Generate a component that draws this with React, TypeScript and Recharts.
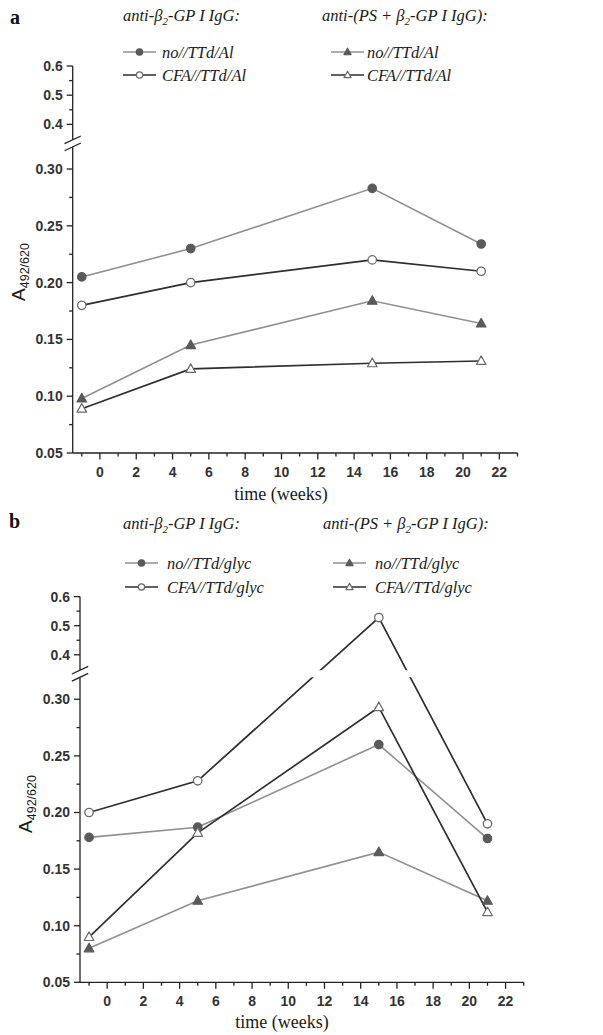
import React from 'react';
import { LineChart, Line, XAxis, YAxis, ReferenceArea, ReferenceLine } from 'recharts';

// ---------- data ----------
const weeks = [-1, 5, 15, 21];

// panel a (TTd/Al)
const aNoIgG = [0.205, 0.23, 0.283, 0.234];
const aCfaIgG = [0.18, 0.2, 0.22, 0.21];
const aNoPS = [0.098, 0.145, 0.184, 0.164];
const aCfaPS = [0.089, 0.124, 0.129, 0.131];

// panel b (TTd/glyc)
const bNoIgG = [0.178, 0.187, 0.26, 0.177];
const bCfaIgG = [0.2, 0.228, 0.528, 0.19];
const bNoPS = [0.08, 0.122, 0.165, 0.122];
const bCfaPS = [0.09, 0.182, 0.293, 0.112];

// ticks
const yMajorLower = [0.05, 0.1, 0.15, 0.2, 0.25, 0.3];
const yLowerLabels = ['0.05', '0.10', '0.15', '0.20', '0.25', '0.30'];
const yMinorLower = [0.075, 0.125, 0.175, 0.225, 0.275];
const yMajorUpper = [0.4, 0.5, 0.6];
const yUpperLabels = ['0.4', '0.5', '0.6'];
const yMinorUpper = [0.45, 0.55];
const xMajor = [0, 2, 4, 6, 8, 10, 12, 14, 16, 18, 20, 22];
const xMinor = [-1, 1, 3, 5, 7, 9, 11, 13, 15, 17, 19, 21, 23];

const legendA = { left: ['no//TTd/Al', 'CFA//TTd/Al'], right: ['no//TTd/Al', 'CFA//TTd/Al'] };
const legendB = { left: ['no//TTd/glyc', 'CFA//TTd/glyc'], right: ['no//TTd/glyc', 'CFA//TTd/glyc'] };

// ---------- broken axis mapping ----------
const BREAK_LO = 0.3195;
const BREAK_HI = 0.3257;
const UP_REF = 0.4;
const UP_REF_D = 0.3393;
const UP_RATIO = 0.257;
const disp = (v: number) => (v < 0.34 ? v : UP_REF_D + (v - UP_REF) * UP_RATIO);
const Y_TOP = disp(0.6);

type Entry = { d: number; label: string; major: boolean };
const yEntries: Entry[] = [
  ...yMajorLower.map((v, i) => ({ d: disp(v), label: yLowerLabels[i], major: true })),
  ...yMinorLower.map((v) => ({ d: disp(v), label: '', major: false })),
  ...yMajorUpper.map((v, i) => ({ d: disp(v), label: yUpperLabels[i], major: true })),
  ...yMinorUpper.map((v) => ({ d: disp(v), label: '', major: false })),
];
const yTickValues = yEntries.map((e) => e.d).sort((a, b) => a - b);
const xTickValues = [...xMajor, ...xMinor].sort((a, b) => a - b);

const AXIS = '#222';
const GRAY_LINE = '#909090';
const DARK_LINE = '#2e2e2e';
const MARK_FILL = '#5a5a5a';
const MARK_OPEN = '#6a6a6a';
const SANS = '"Liberation Sans", Arial, sans-serif';
const SERIF = '"Liberation Serif", "Times New Roman", serif';

const buildRows = (s1: number[], s2: number[], s3: number[], s4: number[]) =>
  weeks.map((w, i) => ({ week: w, noIgG: disp(s1[i]), cfaIgG: disp(s2[i]), noPS: disp(s3[i]), cfaPS: disp(s4[i]) }));

type Kind = 'fc' | 'oc' | 'ft' | 'ot';
function Marker({ cx, cy, kind, s = 1 }: { cx: number; cy: number; kind: Kind; s?: number }) {
  if (cx == null || cy == null) return null;
  if (kind === 'fc' || kind === 'oc') {
    const open = kind === 'oc';
    return (
      <circle cx={cx} cy={cy} r={4.2 * s} fill={open ? '#fff' : MARK_FILL} stroke={open ? MARK_OPEN : MARK_FILL} strokeWidth={1.3} />
    );
  }
  const open = kind === 'ot';
  const h = 5.1 * s;
  const w = 4.8 * s;
  const pts = `${cx},${cy - h} ${cx - w},${cy + h * 0.68} ${cx + w},${cy + h * 0.68}`;
  return <polygon points={pts} fill={open ? '#fff' : MARK_FILL} stroke={open ? MARK_OPEN : MARK_FILL} strokeWidth={1.2} strokeLinejoin="round" />;
}

function makeYTick(axisX: number) {
  return (props: any) => {
    const { y, payload } = props;
    let e = yEntries[0];
    for (const c of yEntries) if (Math.abs(c.d - payload.value) < Math.abs(e.d - payload.value)) e = c;
    return (
      <g>
        <line x1={axisX - (e.major ? 6 : 3.5)} x2={axisX} y1={y} y2={y} stroke={AXIS} strokeWidth={1.3} />
        {e.major && (
          <text x={axisX - 10} y={y} dy={5} textAnchor="end" fontFamily={SANS} fontWeight="bold" fontSize={14} fill="#333">
            {e.label}
          </text>
        )}
      </g>
    );
  };
}

function makeXTick(axisY: number) {
  return (props: any) => {
    const { x, payload } = props;
    const major = xMajor.includes(payload.value);
    return (
      <g>
        <line x1={x} x2={x} y1={axisY} y2={axisY + (major ? 6.5 : 3.5)} stroke={AXIS} strokeWidth={1.3} />
        {major && (
          <text x={x} y={axisY + 24} textAnchor="middle" fontFamily={SANS} fontWeight="bold" fontSize={14} fill="#333">
            {payload.value}
          </text>
        )}
      </g>
    );
  };
}

type PanelCfg = {
  top: number;
  width: number;
  height: number;
  marginTop: number;
  marginRight: number;
  yAxisW: number;
  xAxisH: number;
};

function Panel({ cfg, rows }: { cfg: PanelCfg; rows: any[] }) {
  const axisX = cfg.yAxisW;
  const axisY = cfg.height - cfg.xAxisH;
  const series: { key: string; color: string; width: number; kind: Kind }[] = [
    { key: 'noIgG', color: GRAY_LINE, width: 1.6, kind: 'fc' },
    { key: 'noPS', color: GRAY_LINE, width: 1.6, kind: 'ft' },
    { key: 'cfaIgG', color: DARK_LINE, width: 1.7, kind: 'oc' },
    { key: 'cfaPS', color: DARK_LINE, width: 1.7, kind: 'ot' },
  ];
  return (
    <div style={{ position: 'absolute', left: 0, top: cfg.top }}>
      <LineChart
        width={cfg.width}
        height={cfg.height}
        data={rows}
        margin={{ top: cfg.marginTop, right: cfg.marginRight, bottom: 0, left: 0 }}
      >
        <XAxis
          dataKey="week"
          type="number"
          domain={[-1.5, 23]}
          ticks={xTickValues}
          interval={0}
          allowDataOverflow
          height={cfg.xAxisH}
          axisLine={{ stroke: AXIS, strokeWidth: 1.3 }}
          tickLine={false}
          tick={makeXTick(axisY)}
        />
        <YAxis
          type="number"
          domain={[0.05, Y_TOP]}
          ticks={yTickValues}
          interval={0}
          allowDataOverflow
          width={cfg.yAxisW}
          axisLine={{ stroke: AXIS, strokeWidth: 1.3 }}
          tickLine={false}
          tick={makeYTick(axisX)}
        />
        {series.map((s) => (
          <Line
            key={s.key}
            dataKey={s.key}
            type="linear"
            stroke={s.color}
            strokeWidth={s.width}
            isAnimationActive={false}
            activeDot={false}
            dot={(p: any) => <Marker key={`${s.key}-${p.index}`} cx={p.cx} cy={p.cy} kind={s.kind} />}
          />
        ))}
        <ReferenceArea
          x1={-2.2}
          x2={23.5}
          y1={BREAK_LO}
          y2={BREAK_HI}
          fill="#ffffff"
          fillOpacity={1}
          stroke="none"
          ifOverflow="visible"
          zIndex={650}
        />
        {[BREAK_LO, BREAK_HI].map((b) => (
          <ReferenceLine
            key={b}
            segment={[
              { x: -1.95, y: b - 0.0034 },
              { x: -1.05, y: b + 0.0034 },
            ]}
            stroke={AXIS}
            strokeWidth={1.3}
            ifOverflow="visible"
            zIndex={700}
          />
        ))}
      </LineChart>
    </div>
  );
}

function LegendRow({ x, y, color, kind, textX, label }: { x: number; y: number; color: string; kind: Kind; textX: number; label: string }) {
  return (
    <g>
      <line x1={x} x2={x + 33} y1={y} y2={y} stroke={color} strokeWidth={1.6} />
      <Marker cx={x + 16.5} cy={y} kind={kind} s={0.75} />
      <text x={textX} y={y + 5.5} fontFamily={SERIF} fontStyle="italic" fontSize={16.5} fill="#1a1a1a">
        {label}
      </text>
    </g>
  );
}

function Header({ x, y, pre, post }: { x: number; y: number; pre: string; post: string }) {
  return (
    <text x={x} y={y} fontFamily={SERIF} fontStyle="italic" fontSize={16.5} fill="#1a1a1a">
      {pre}
      <tspan fontSize={11} dy={4}>2</tspan>
      <tspan dy={-4}>{post}</tspan>
    </text>
  );
}

function YTitle({ x, y }: { x: number; y: number }) {
  return (
    <text x={x} y={y} transform={`rotate(-90, ${x}, ${y})`} textAnchor="middle" fontFamily={SANS} fontSize={19} fill="#1a1a1a">
      A
      <tspan fontSize={12.5} dy={4}>492/620</tspan>
    </text>
  );
}

const cfgA: PanelCfg = { top: 0, width: 603, height: 498, marginTop: 66, marginRight: 85.5, yAxisW: 72.7, xAxisH: 45 };
const cfgB: PanelCfg = { top: 530, width: 603, height: 497.3, marginTop: 66.6, marginRight: 79.3, yAxisW: 80, xAxisH: 45 };

export default function App() {
  const rowsA = buildRows(aNoIgG, aCfaIgG, aNoPS, aCfaPS);
  const rowsB = buildRows(bNoIgG, bCfaIgG, bNoPS, bCfaPS);
  return (
    <div style={{ position: 'absolute', left: 0, top: 0, width: 603, height: 1035, overflow: 'hidden', background: '#fff' }}>
      <Panel cfg={cfgA} rows={rowsA} />
      <Panel cfg={cfgB} rows={rowsB} />
      <svg width={603} height={1035} style={{ position: 'absolute', left: 0, top: 0, pointerEvents: 'none' }}>
        {/* panel a */}
        <text x={10} y={24} fontFamily={SERIF} fontWeight="bold" fontSize={20} fill="#111">a</text>
        <Header x={123} y={21} pre="anti-β" post="-GP I IgG:" />
        <Header x={322} y={21} pre="anti-(PS + β" post="-GP I IgG):" />
        <LegendRow x={123} y={52} color={GRAY_LINE} kind="fc" textX={162} label={legendA.left[0]} />
        <LegendRow x={123} y={75} color={DARK_LINE} kind="oc" textX={162} label={legendA.left[1]} />
        <LegendRow x={331} y={52} color={GRAY_LINE} kind="ft" textX={367} label={legendA.right[0]} />
        <LegendRow x={331} y={75} color={DARK_LINE} kind="ot" textX={367} label={legendA.right[1]} />
        <YTitle x={25} y={272} />
        <text x={281} y={500} textAnchor="middle" fontFamily={SERIF} fontSize={18} fill="#1a1a1a">time (weeks)</text>

        {/* panel b */}
        <text x={9} y={528} fontFamily={SERIF} fontWeight="bold" fontSize={20} fill="#111">b</text>
        <Header x={123} y={529} pre="anti-β" post="-GP I IgG:" />
        <Header x={323} y={529} pre="anti-(PS + β" post="-GP I IgG):" />
        <LegendRow x={125} y={563} color={GRAY_LINE} kind="fc" textX={167} label={legendB.left[0]} />
        <LegendRow x={125} y={587} color={DARK_LINE} kind="oc" textX={167} label={legendB.left[1]} />
        <LegendRow x={333} y={563} color={GRAY_LINE} kind="ft" textX={375} label={legendB.right[0]} />
        <LegendRow x={333} y={587} color={DARK_LINE} kind="ot" textX={375} label={legendB.right[1]} />
        <YTitle x={32} y={804} />
        <text x={282} y={1028} textAnchor="middle" fontFamily={SERIF} fontSize={18} fill="#1a1a1a">time (weeks)</text>
      </svg>
    </div>
  );
}
